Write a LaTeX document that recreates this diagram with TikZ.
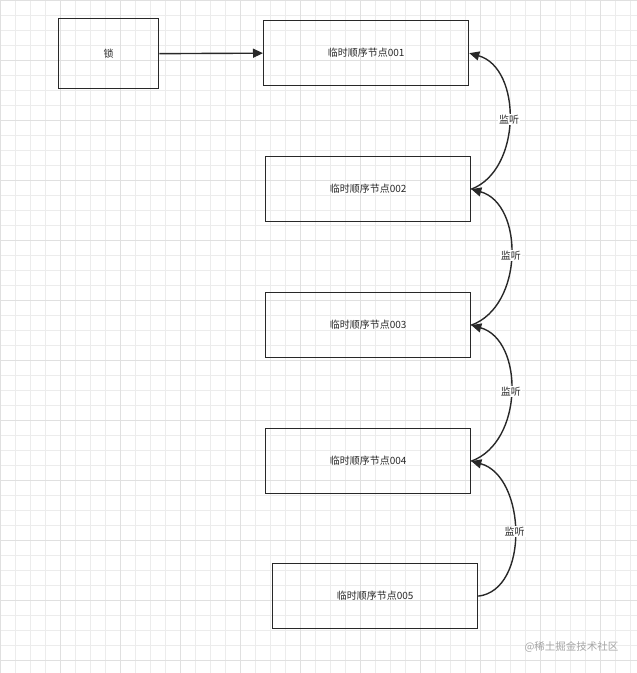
\documentclass[tikz,border=0pt]{standalone}
\usepackage{fontspec}
\newfontfamily\cjk{Noto Sans CJK SC}
\usetikzlibrary{arrows.meta}
\definecolor{gridc}{RGB}{236,236,236}
\definecolor{gridd}{RGB}{224,224,224}
\definecolor{ln}{RGB}{40,40,40}
\begin{document}
\begin{tikzpicture}[x=1pt,y=-1pt,
  box/.style={draw=ln,line width=1.3pt,minimum width=205pt,minimum height=65pt,anchor=north west,inner sep=0,font=\cjk\fontsize{10}{12}\selectfont,text=ln},
  arr/.style={draw=ln,line width=1.4pt,-{Triangle[length=10pt,width=9pt]}},
  lab/.style={fill=white,inner sep=1pt,font=\cjk\fontsize{10}{12}\selectfont,text=ln}]
\useasboundingbox (0,0) rectangle (637,673);
\fill[white] (0,0) rectangle (637,673);
\foreach \i in {0,15,...,660} {\draw[gridc,line width=0.6pt] (\i,0) -- (\i,673); \draw[gridc,line width=0.6pt] (0,\i) -- (637,\i);}
\foreach \i in {0,60,...,660} {\draw[gridd,line width=0.7pt] (\i,0) -- (\i,673); \draw[gridd,line width=0.7pt] (0,\i) -- (637,\i);}
\node[box,minimum width=100pt,minimum height=70pt] (lock) at (58,18) {锁};
\node[box] (n1) at (263,20) {临时顺序节点001};
\node[box] (n2) at (265,156) {临时顺序节点002};
\node[box] (n3) at (265,292) {临时顺序节点003};
\node[box] (n4) at (265,428) {临时顺序节点004};
\node[box] (n5) at (272,563) {临时顺序节点005};
\draw[arr] (lock.east) -- (n1.west);
\draw[arr] (n2.east) .. controls (522,170) and (522,68) .. node[lab,pos=0.5]{监听} (n1.east);
\draw[arr] (n3.east) .. controls (524,306) and (524,204) .. node[lab,pos=0.5]{监听} (n2.east);
\draw[arr] (n4.east) .. controls (524,442) and (524,340) .. node[lab,pos=0.5]{监听} (n3.east);
\draw[arr] (n5.east) .. controls (530,590) and (526,476) .. node[lab,pos=0.5]{监听} (n4.east);
\node[font=\cjk\fontsize{10.5}{12}\selectfont,text=gray!70,anchor=east] (wm) at (622,647) {@稀土掘金技术社区};
\end{tikzpicture}
\end{document}
